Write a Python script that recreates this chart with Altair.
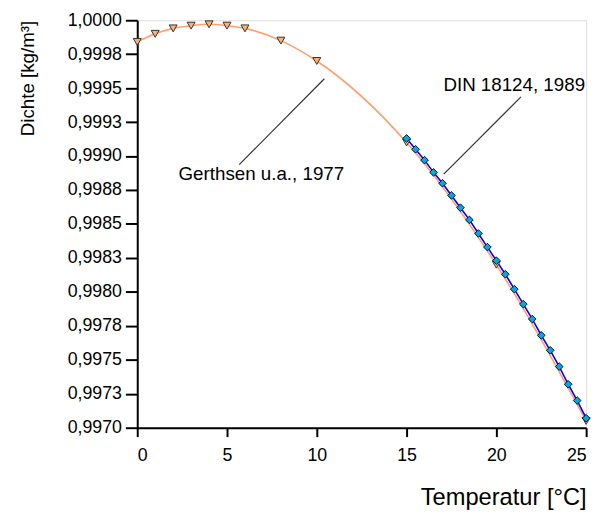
import altair as alt
import pandas as pd

# Gerthsen u.a., 1977
g_temp = [0, 1, 2, 3, 4, 5, 6, 8, 10, 15, 20, 25]
g_dens = [0.99984, 0.99990, 0.99994, 0.99996, 0.99997, 0.99996, 0.99994,
          0.99985, 0.99970, 0.99910, 0.99820, 0.99705]

# DIN 18124, 1989
d_temp = [15, 15.5, 16, 16.5, 17, 17.5, 18, 18.5, 19, 19.5, 20, 20.5,
          21, 21.5, 22, 22.5, 23, 23.5, 24, 24.5, 25]
d_dens = [0.99913, 0.99905, 0.99897, 0.99888, 0.99880, 0.99871, 0.99862,
          0.99853, 0.99843, 0.99833, 0.99823, 0.99813, 0.99802, 0.99791,
          0.99780, 0.99768, 0.99757, 0.99745, 0.99732, 0.99720, 0.99707]

y_ticks = [0.997, 0.99725, 0.9975, 0.99775, 0.998, 0.99825, 0.9985,
           0.99875, 0.999, 0.99925, 0.9995, 0.99975, 1.0]
y_tick_labels = ["0,9970", "0,9973", "0,9975", "0,9978", "0,9980", "0,9983",
                 "0,9985", "0,9988", "0,9990", "0,9993", "0,9995", "0,9998",
                 "1,0000"]
x_ticks = [0, 5, 10, 15, 20, 25]

# annotations (data coordinates)
ann_text = ["Gerthsen u.a., 1977", "DIN 18124, 1989"]
ann_tx = [2.3, 17.05]
ann_ty = [0.998865, 0.999526]
lead_x1 = [5.68, 17.07]
lead_y1 = [0.998937, 0.998867]
lead_x2 = [10.42, 21.37]
lead_y2 = [0.999569, 0.999436]

FONT = "Liberation Sans"

gdf = pd.DataFrame({"t": g_temp, "d": g_dens})
ddf = pd.DataFrame({"t": d_temp, "d": d_dens})
adf = pd.DataFrame({"t": ann_tx, "d": ann_ty, "text": ann_text})
ldf = pd.DataFrame({"t": lead_x1, "d": lead_y1, "t2": lead_x2, "d2": lead_y2})

label_expr = " : ".join(
    f"abs(datum.value - {v}) < 1e-7 ? '{l}'" for v, l in zip(y_ticks, y_tick_labels)
) + " : ''"

xscale = alt.Scale(domain=[0, 25], nice=False, zero=False)
yscale = alt.Scale(domain=[0.997, 1.0], nice=False, zero=False)

xax = alt.Axis(values=x_ticks, title="Temperatur [°C]", titleAnchor="end",
               titleFontSize=24, titleFontWeight="normal", titlePadding=22,
               labelFontSize=18, tickSize=9, labelPadding=10, grid=False,
               labelOverlap=False,
               domainColor="black", tickColor="black", domainWidth=2,
               tickWidth=2, labelColor="black", titleColor="black",
               labelFont=FONT, titleFont=FONT)
yax = alt.Axis(values=y_ticks, labelExpr=label_expr, title="Dichte [kg/m³]",
               titleAnchor="end", titleFontSize=19, titleFontWeight="normal",
               titlePadding=30, labelFontSize=18, tickSize=12, labelPadding=4,
               grid=False, labelOverlap=False, domainColor="black",
               tickColor="black",
               domainWidth=2, tickWidth=2, labelColor="black",
               titleColor="black", labelFont=FONT, titleFont=FONT)

x = alt.X("t:Q", scale=xscale, axis=xax)
y = alt.Y("d:Q", scale=yscale, axis=yax)

g_line = alt.Chart(gdf).mark_line(color="#FF9E6E", strokeWidth=1.6,
                                  interpolate="monotone").encode(x=x, y=y)
g_pts = alt.Chart(gdf).mark_point(shape="triangle-down", filled=True,
                                  fill="#F7B274", stroke="#333333",
                                  strokeWidth=1, size=65, opacity=1).encode(x=x, y=y)
d_line = alt.Chart(ddf).mark_line(color="#0000FF", strokeWidth=1.6).encode(x=x, y=y)
d_pts = alt.Chart(ddf).mark_point(shape="diamond", filled=True,
                                  fill="#00A8E8", stroke="#111111",
                                  strokeWidth=1, size=60, opacity=1).encode(x=x, y=y)

leaders = alt.Chart(ldf).mark_rule(color="#333333", strokeWidth=1.2).encode(
    x=x, y=y, x2="t2:Q", y2="d2:Q")
labels = alt.Chart(adf).mark_text(align="left", baseline="middle", fontSize=19,
                                  font=FONT, color="black").encode(
    x=x, y=y, text="text:N")

chart = alt.layer(g_line, d_line, g_pts, d_pts, leaders, labels).properties(
    width=455, height=413,
    autosize=alt.AutoSizeParams(type="none"),
    padding={"left": 131, "top": 9, "right": 11, "bottom": 80},
).configure_view(stroke="black", strokeWidth=2).configure(background="white")

chart.save("out.html", embed_options={"renderer": "svg", "actions": False})
